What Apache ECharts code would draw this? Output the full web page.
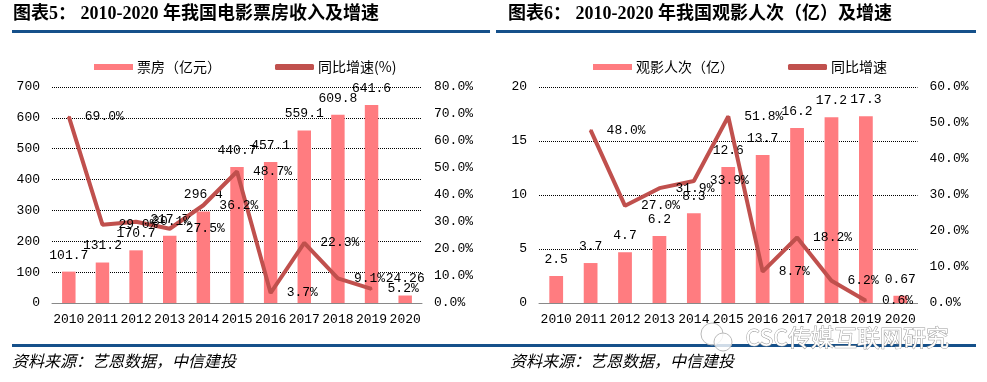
<!DOCTYPE html>
<html>
<head>
<meta charset="utf-8">
<script src="https://cdn.jsdelivr.net/npm/echarts@6/dist/echarts.min.js"></script>
<style>
html,body{margin:0;padding:0;background:#fff;}
#c{width:987px;height:382px;}
</style>
</head>
<body>
<div id="c"></div>
<script>
// ---- data ----
var years = ['2010','2011','2012','2013','2014','2015','2016','2017','2018','2019','2020'];
var boxOffice = [101.7,131.2,170.7,217.7,296.4,440.7,457.1,559.1,609.8,641.6,24.26];
var boxGrowth = [69.0,29.0,30.1,27.5,36.2,48.7,3.7,22.3,9.1,5.2,null];
var admissions = [2.5,3.7,4.7,6.2,8.3,12.6,13.7,16.2,17.2,17.3,0.67];
var admGrowth = [null,48.0,27.0,31.9,33.9,51.8,8.7,18.2,6.2,0.6,null];
var leftTitle = '图表5： 2010-2020 年我国电影票房收入及增速';
var rightTitle = '图表6： 2010-2020 年我国观影人次（亿）及增速';
var sourceText = '资料来源：艺恩数据，中信建投';
var names = ['票房（亿元）','同比增速(%)','观影人次（亿）','同比增速'];

var MONO = '"Liberation Mono", "Noto Sans CJK SC", monospace';
var CJK = '"Noto Sans CJK SC", sans-serif';
var BAR = '#FF7C80', LINE = '#C0504D', BLUE = '#15508A';
var fs = 13;

function xAx(gi){
  return {type:'category', gridIndex:gi, data:years, boundaryGap:true,
    axisLine:{show:true, lineStyle:{color:'#898989', width:1}},
    axisTick:{show:false},
    axisLabel:{color:'#000', fontFamily:MONO, fontSize:fs, margin:10, interval:0}};
}
function yAx(gi, max, itv, split, pct, pos){
  return {type:'value', gridIndex:gi, min:0, max:max, interval:itv, position:pos,
    axisLine:{show:false}, axisTick:{show:false},
    splitLine:{show:split, lineStyle:{type:'dotted', color:'#000', width:1}},
    axisLabel:{color:'#000', fontFamily:MONO, fontSize:fs, margin:12,
      formatter: pct ? function(v){return v.toFixed(1)+'%';} : function(v){return String(v);}}};
}
function barS(name, xi, yi, data){
  return {name:name, type:'bar', xAxisIndex:xi, yAxisIndex:yi, data:data, barWidth:'40%',
    itemStyle:{color:BAR}, z:2,
    label:{show:true, position:'top', distance:10, color:'#000', fontFamily:MONO, fontSize:fs,
      formatter:function(p){return String(p.value);}}};
}
function lineS(name, xi, yi, data){
  return {name:name, type:'line', xAxisIndex:xi, yAxisIndex:yi, data:data,
    symbol:'circle', symbolSize:2, showSymbol:true, connectNulls:false,
    itemStyle:{color:LINE}, lineStyle:{color:LINE, width:4}, z:3,
    label:{show:true, position:'right', distance:15, color:'#000', fontFamily:MONO, fontSize:fs,
      formatter:function(p){return p.value==null?'':p.value.toFixed(1)+'%';}}};
}
function legendOf(left, a, b){
  return {left:left, top:60, padding:0, itemWidth:39, itemHeight:6, itemGap:54,
    textStyle:{color:'#000', fontFamily:CJK, fontSize:14, padding:[0,0,0,-1]},
    data:[{name:a, icon:'rect'},{name:b, icon:'roundRect'}]};
}

var chart = echarts.init(document.getElementById('c'), null, {renderer:'canvas'});
chart.setOption({
  animation:false,
  backgroundColor:'#fff',
  legend:[legendOf(94, names[0], names[1]), legendOf(593, names[2], names[3])],
  grid:[
    {left:52, right:565, top:87, bottom:79},
    {left:539, right:69.5, top:87, bottom:79}
  ],
  xAxis:[xAx(0), xAx(1)],
  yAxis:[
    yAx(0, 700, 100, true, false, 'left'),
    yAx(0, 80, 10, false, true, 'right'),
    yAx(1, 20, 5, true, false, 'left'),
    yAx(1, 60, 10, false, true, 'right')
  ],
  series:[
    barS(names[0], 0, 0, boxOffice),
    lineS(names[1], 0, 1, boxGrowth),
    barS(names[2], 1, 2, admissions),
    lineS(names[3], 1, 3, admGrowth)
  ],
  graphic:[
    {type:'text', left:13, top:5, style:{text:leftTitle, fill:'#000', font:'bold 18px "Liberation Serif", "Noto Sans CJK SC", serif'}},
    {type:'text', left:508, top:5, style:{text:rightTitle, fill:'#000', font:'bold 18px "Liberation Serif", "Noto Sans CJK SC", serif'}},
    {type:'rect', shape:{x:12, y:30, width:478, height:3}, style:{fill:BLUE}},
    {type:'rect', shape:{x:496, y:30, width:480, height:3}, style:{fill:BLUE}},
    {type:'rect', shape:{x:12, y:344, width:964, height:3}, style:{fill:BLUE}},
    {type:'text', left:12, top:353, style:{text:sourceText, fill:'#000', font:'italic 16px "Noto Sans CJK SC", sans-serif'}},
    {type:'text', left:510, top:353, style:{text:sourceText, fill:'#000', font:'italic 16px "Noto Sans CJK SC", sans-serif'}},
    {type:'circle', shape:{cx:712, cy:334, r:11}, style:{fill:'rgba(255,255,255,0.6)', stroke:'#bbb', lineWidth:1}, z:100},
    {type:'circle', shape:{cx:723, cy:342, r:9}, style:{fill:'rgba(255,255,255,0.8)', stroke:'#bbb', lineWidth:1}, z:100},
    {type:'text', left:745, top:325, z:100, style:{text:'CSC传媒互联网研究', fill:'#fff', stroke:'#999', lineWidth:1, font:'23px "Noto Sans CJK SC", sans-serif'}}
  ]
});
</script>
</body>
</html>
